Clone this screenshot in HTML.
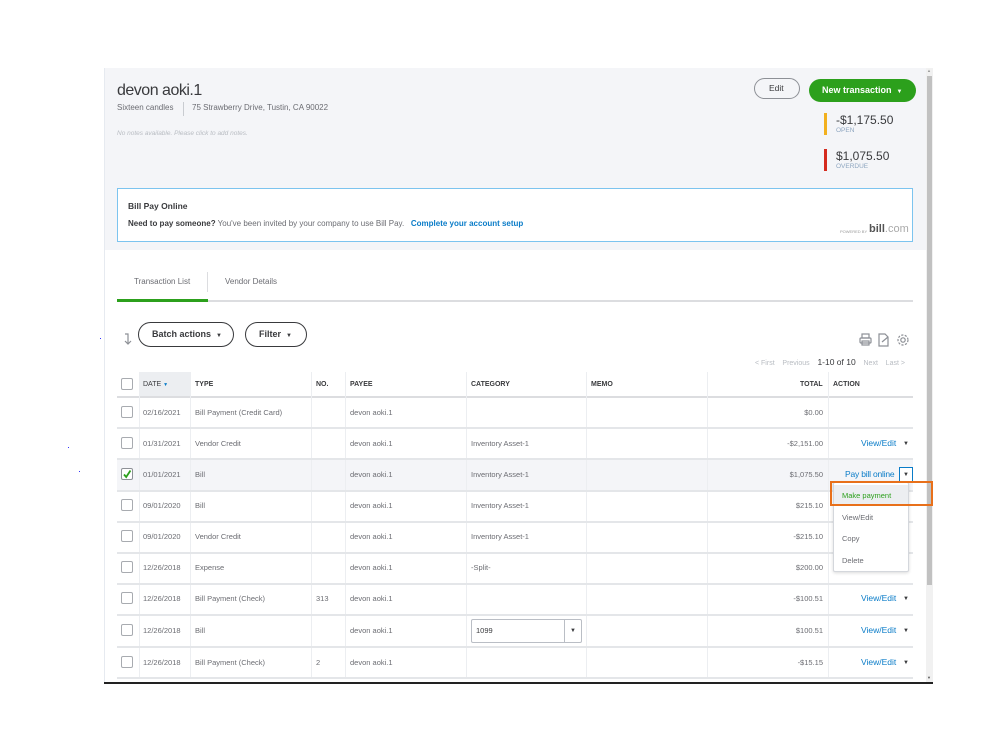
<!DOCTYPE html>
<html><head><meta charset="utf-8"><style>
*{margin:0;padding:0;box-sizing:border-box}
html,body{width:999px;height:749px;overflow:hidden;background:#fff;font-family:"Liberation Sans",sans-serif}
.a{position:absolute}
.t{position:absolute;white-space:nowrap;line-height:1}
.c{font-size:7.5px;color:#6b6c72}
.h{font-size:7px;color:#393a3d;font-weight:bold}
.cb{position:absolute;left:121px;width:12px;height:12px;border:1px solid #a8abb0;border-radius:2px;background:#fff}
.rl{position:absolute;left:117px;width:796px;height:2px;background:#e4e6e9}
.vl{position:absolute;width:1px;background:#eceef1}
.lnk{font-size:8.5px;color:#0a7cc8}
.arr{font-size:6px;color:#393a3d}
</style></head><body>

<!-- dots -->
<div class="a" style="left:100px;top:338px;width:1px;height:1px;background:#33f"></div>
<div class="a" style="left:68px;top:447px;width:1px;height:1px;background:#33f"></div>
<div class="a" style="left:79px;top:471px;width:1px;height:1px;background:#33f"></div>

<!-- panel -->
<div class="a" style="left:104px;top:68px;width:822px;height:615px;background:#fff;border-left:1px solid #e6eaf0"></div>
<div class="a" style="left:105px;top:68px;width:821px;height:182px;background:#f4f5f8"></div>

<!-- scrollbar -->
<div class="a" style="left:926px;top:68px;width:7px;height:615px;background:#f1f1f1"></div>
<div class="a" style="left:927px;top:76px;width:5px;height:509px;background:#c1c1c1"></div>
<div class="t" style="left:927px;top:69px;font-size:4px;color:#999">▲</div>
<div class="t" style="left:927px;top:676px;font-size:4px;color:#555">▼</div>
<div class="a" style="left:104px;top:682px;width:829px;height:2px;background:#222"></div>

<!-- header -->
<div class="t" style="left:117px;top:83px;font-size:16px;letter-spacing:-0.5px;color:#393a3d">devon aoki.1</div>
<div class="t" style="left:117px;top:104px;font-size:8px;color:#6b6c72">Sixteen candles</div>
<div class="a" style="left:183px;top:102px;width:1px;height:14px;background:#c9ccd1"></div>
<div class="t" style="left:192px;top:104px;font-size:8px;color:#6b6c72">75 Strawberry Drive, Tustin, CA 90022</div>
<div class="t" style="left:117px;top:131px;font-size:6.5px;color:#b8bcc2;font-style:italic">No notes available. Please click to add notes.</div>

<div class="a" style="left:754px;top:78px;width:46px;height:21px;border:1px solid #8d9096;border-radius:11px"></div>
<div class="t" style="left:769px;top:84px;font-size:8.5px;color:#393a3d">Edit</div>
<div class="a" style="left:809px;top:79px;width:107px;height:23px;background:#2ca01c;border-radius:12px"></div>
<div class="t" style="left:822px;top:86px;font-size:9px;color:#fff;font-weight:bold">New transaction&nbsp; <span style="font-size:6px">▼</span></div>

<div class="a" style="left:824px;top:113px;width:3px;height:22px;background:#f2b01e"></div>
<div class="t" style="left:836px;top:114px;font-size:12px;color:#393a3d">-$1,175.50</div>
<div class="t" style="left:836px;top:128px;font-size:6.5px;color:#8ea6c0">OPEN</div>
<div class="a" style="left:824px;top:149px;width:3px;height:22px;background:#d52b1e"></div>
<div class="t" style="left:836px;top:150px;font-size:12px;color:#393a3d">$1,075.50</div>
<div class="t" style="left:836px;top:164px;font-size:6.5px;color:#8ea6c0">OVERDUE</div>

<!-- bill pay -->
<div class="a" style="left:117px;top:188px;width:796px;height:54px;background:#fff;border:1px solid #7cc4ef"></div>
<div class="t" style="left:128px;top:202px;font-size:8.5px;color:#393a3d;font-weight:bold">Bill Pay Online</div>
<div class="t" style="left:128px;top:220px;font-size:8px;color:#6b6c72"><b style="color:#393a3d">Need to pay someone?</b> You've been invited by your company to use Bill Pay. &nbsp; <b style="color:#0a7cc8">Complete your account setup</b></div>
<div class="t" style="left:840px;top:230px;font-size:4px;color:#999">POWERED BY</div>
<div class="t" style="left:869px;top:224px;font-size:11px;color:#555"><b>bill</b><span style="color:#aaa">.com</span></div>

<!-- tabs -->
<div class="t" style="left:134px;top:278px;font-size:8px;color:#6b6c72">Transaction List</div>
<div class="a" style="left:207px;top:272px;width:1px;height:20px;background:#dcdde0"></div>
<div class="t" style="left:225px;top:278px;font-size:8px;color:#6b6c72">Vendor Details</div>
<div class="a" style="left:117px;top:300px;width:796px;height:2px;background:#dcdde0"></div>
<div class="a" style="left:117px;top:299px;width:91px;height:3px;background:#2ca01c"></div>

<!-- buttons -->
<svg class="a" style="left:122px;top:332px" width="12" height="14" viewBox="0 0 12 14">
<g fill="none" stroke="#8d9096" stroke-width="1.2"><path d="M3 2h3v10"/><path d="M3 9l3 3 3-3"/></g></svg>
<div class="a" style="left:138px;top:322px;width:96px;height:25px;border:1.5px solid #393a3d;border-radius:13px"></div>
<div class="t" style="left:152px;top:330px;font-size:9px;color:#393a3d;font-weight:bold">Batch actions&nbsp; <span style="font-size:6px">▼</span></div>
<div class="a" style="left:245px;top:322px;width:62px;height:25px;border:1.5px solid #393a3d;border-radius:13px"></div>
<div class="t" style="left:259px;top:330px;font-size:9px;color:#393a3d;font-weight:bold">Filter&nbsp; <span style="font-size:6px">▼</span></div>

<!-- tools -->
<svg class="a" style="left:858px;top:332px" width="56" height="16" viewBox="0 0 56 16">
<g fill="none" stroke="#8d9096" stroke-width="1.2">
<rect x="4" y="2" width="7" height="4"/><rect x="2" y="6" width="11" height="5" rx="1"/><rect x="4" y="9" width="7" height="4"/>
<path d="M21 2h6l3 3v9h-9z"/><path d="M24 10l6-5"/>
<circle cx="45" cy="8" r="2.2"/><circle cx="45" cy="8" r="5" stroke-dasharray="2.2 1.4"/>
</g></svg>
<div class="t" style="left:755px;top:358px;font-size:7px;color:#b8bcc2">&lt; First&nbsp;&nbsp;&nbsp; Previous&nbsp;&nbsp;&nbsp; <span style="color:#393a3d;font-size:8.5px">1-10 of 10</span>&nbsp;&nbsp;&nbsp; Next&nbsp;&nbsp;&nbsp; Last &gt;</div>

<!-- table header -->
<div class="a" style="left:139px;top:372px;width:51px;height:25px;background:#eceef1"></div>
<div class="a" style="left:117px;top:396px;width:796px;height:2px;background:#dcdde0"></div>
<div class="cb" style="top:378px"></div>
<div class="t h" style="left:143px;top:381px;font-weight:normal">DATE <span style="font-size:5px;color:#0a7cc8">▼</span></div>
<div class="t h" style="left:195px;top:381px">TYPE</div>
<div class="t h" style="left:316px;top:381px">NO.</div>
<div class="t h" style="left:350px;top:381px">PAYEE</div>
<div class="t h" style="left:471px;top:381px">CATEGORY</div>
<div class="t h" style="left:591px;top:381px">MEMO</div>
<div class="t h" style="left:800px;top:381px">TOTAL</div>
<div class="t h" style="left:833px;top:381px">ACTION</div>

<!-- selected row bg -->
<div class="a" style="left:117px;top:459.4px;width:796px;height:31.2px;background:#f4f5f8"></div>

<!-- column lines -->
<div class="vl" style="left:139px;top:372px;height:306px"></div>
<div class="vl" style="left:190px;top:372px;height:306px"></div>
<div class="vl" style="left:311px;top:372px;height:306px"></div>
<div class="vl" style="left:345px;top:372px;height:306px"></div>
<div class="vl" style="left:466px;top:372px;height:306px"></div>
<div class="vl" style="left:586px;top:372px;height:306px"></div>
<div class="vl" style="left:707px;top:372px;height:306px"></div>
<div class="vl" style="left:828px;top:372px;height:306px"></div>

<!-- row lines -->
<div class="rl" style="top:427.2px"></div>
<div class="rl" style="top:458.4px"></div>
<div class="rl" style="top:489.6px"></div>
<div class="rl" style="top:520.8px"></div>
<div class="rl" style="top:552px"></div>
<div class="rl" style="top:583.2px"></div>
<div class="rl" style="top:614.4px"></div>
<div class="rl" style="top:645.6px"></div>
<div class="rl" style="top:677px"></div>

<!-- rows -->
<div class="cb" style="top:406px"></div>
<div class="t c" style="left:143px;top:408.5px">02/16/2021</div>
<div class="t c" style="left:195px;top:408.5px">Bill Payment (Credit Card)</div>
<div class="t c" style="left:350px;top:408.5px">devon aoki.1</div>
<div class="t c" style="right:176px;top:408.5px">$0.00</div>

<div class="cb" style="top:437px"></div>
<div class="t c" style="left:143px;top:439.5px">01/31/2021</div>
<div class="t c" style="left:195px;top:439.5px">Vendor Credit</div>
<div class="t c" style="left:350px;top:439.5px">devon aoki.1</div>
<div class="t c" style="left:471px;top:439.5px">Inventory Asset-1</div>
<div class="t c" style="right:176px;top:439.5px">-$2,151.00</div>
<div class="t lnk" style="left:861px;top:439px">View/Edit</div>
<div class="t arr" style="left:903px;top:440.5px">▼</div>

<div class="cb" style="top:468px;border-color:#8d9096"></div>
<svg class="a" style="left:121px;top:468px" width="12" height="12" viewBox="0 0 12 12"><path d="M3 6.5l2.2 2.5L9.5 2.5" fill="none" stroke="#2ca01c" stroke-width="1.8"/></svg>
<div class="t c" style="left:143px;top:470.5px">01/01/2021</div>
<div class="t c" style="left:195px;top:470.5px">Bill</div>
<div class="t c" style="left:350px;top:470.5px">devon aoki.1</div>
<div class="t c" style="left:471px;top:470.5px">Inventory Asset-1</div>
<div class="t c" style="right:176px;top:470.5px">$1,075.50</div>
<div class="t lnk" style="left:845px;top:470px;letter-spacing:-0.2px">Pay bill online</div>
<div class="a" style="left:899px;top:467px;width:14px;height:15px;border:1px solid #0a7cc8;background:#fff"></div>
<div class="t arr" style="left:903px;top:472px">▼</div>

<div class="cb" style="top:499px"></div>
<div class="t c" style="left:143px;top:501.5px">09/01/2020</div>
<div class="t c" style="left:195px;top:501.5px">Bill</div>
<div class="t c" style="left:350px;top:501.5px">devon aoki.1</div>
<div class="t c" style="left:471px;top:501.5px">Inventory Asset-1</div>
<div class="t c" style="right:176px;top:501.5px">$215.10</div>

<div class="cb" style="top:530px"></div>
<div class="t c" style="left:143px;top:533px">09/01/2020</div>
<div class="t c" style="left:195px;top:533px">Vendor Credit</div>
<div class="t c" style="left:350px;top:533px">devon aoki.1</div>
<div class="t c" style="left:471px;top:533px">Inventory Asset-1</div>
<div class="t c" style="right:176px;top:533px">-$215.10</div>

<div class="cb" style="top:561px"></div>
<div class="t c" style="left:143px;top:564px">12/26/2018</div>
<div class="t c" style="left:195px;top:564px">Expense</div>
<div class="t c" style="left:350px;top:564px">devon aoki.1</div>
<div class="t c" style="left:471px;top:564px">-Split-</div>
<div class="t c" style="right:176px;top:564px">$200.00</div>

<div class="cb" style="top:592px"></div>
<div class="t c" style="left:143px;top:595px">12/26/2018</div>
<div class="t c" style="left:195px;top:595px">Bill Payment (Check)</div>
<div class="t c" style="left:316px;top:595px">313</div>
<div class="t c" style="left:350px;top:595px">devon aoki.1</div>
<div class="t c" style="right:176px;top:595px">-$100.51</div>
<div class="t lnk" style="left:861px;top:594px">View/Edit</div>
<div class="t arr" style="left:903px;top:595.5px">▼</div>

<div class="cb" style="top:624px"></div>
<div class="t c" style="left:143px;top:627px">12/26/2018</div>
<div class="t c" style="left:195px;top:627px">Bill</div>
<div class="t c" style="left:350px;top:627px">devon aoki.1</div>
<div class="a" style="left:471px;top:619px;width:111px;height:24px;border:1px solid #babec5;border-radius:2px;background:#fff"></div>
<div class="a" style="left:564px;top:620px;width:1px;height:22px;background:#babec5"></div>
<div class="t c" style="left:476px;top:627px;color:#393a3d">1099</div>
<div class="t arr" style="left:570px;top:628px">▼</div>
<div class="t c" style="right:176px;top:627px">$100.51</div>
<div class="t lnk" style="left:861px;top:626px">View/Edit</div>
<div class="t arr" style="left:903px;top:627.5px">▼</div>

<div class="cb" style="top:656px"></div>
<div class="t c" style="left:143px;top:659px">12/26/2018</div>
<div class="t c" style="left:195px;top:659px">Bill Payment (Check)</div>
<div class="t c" style="left:316px;top:659px">2</div>
<div class="t c" style="left:350px;top:659px">devon aoki.1</div>
<div class="t c" style="right:176px;top:659px">-$15.15</div>
<div class="t lnk" style="left:861px;top:658px">View/Edit</div>
<div class="t arr" style="left:903px;top:659.5px">▼</div>

<!-- dropdown menu -->
<div class="a" style="left:833px;top:482px;width:76px;height:90px;background:#fff;border:1px solid #d4d7dc;border-radius:2px;box-shadow:0 1px 3px rgba(0,0,0,.15)"></div>
<div class="a" style="left:834px;top:485px;width:74px;height:21px;background:#eceef1"></div>
<div class="t" style="left:842px;top:492px;font-size:7.5px;color:#2ca01c">Make payment</div>
<div class="t c" style="left:842px;top:514px">View/Edit</div>
<div class="t c" style="left:842px;top:535px">Copy</div>
<div class="t c" style="left:842px;top:557px">Delete</div>
<div class="a" style="left:830px;top:481px;width:103px;height:25px;border:2px solid #e8701a"></div>

</body></html>
